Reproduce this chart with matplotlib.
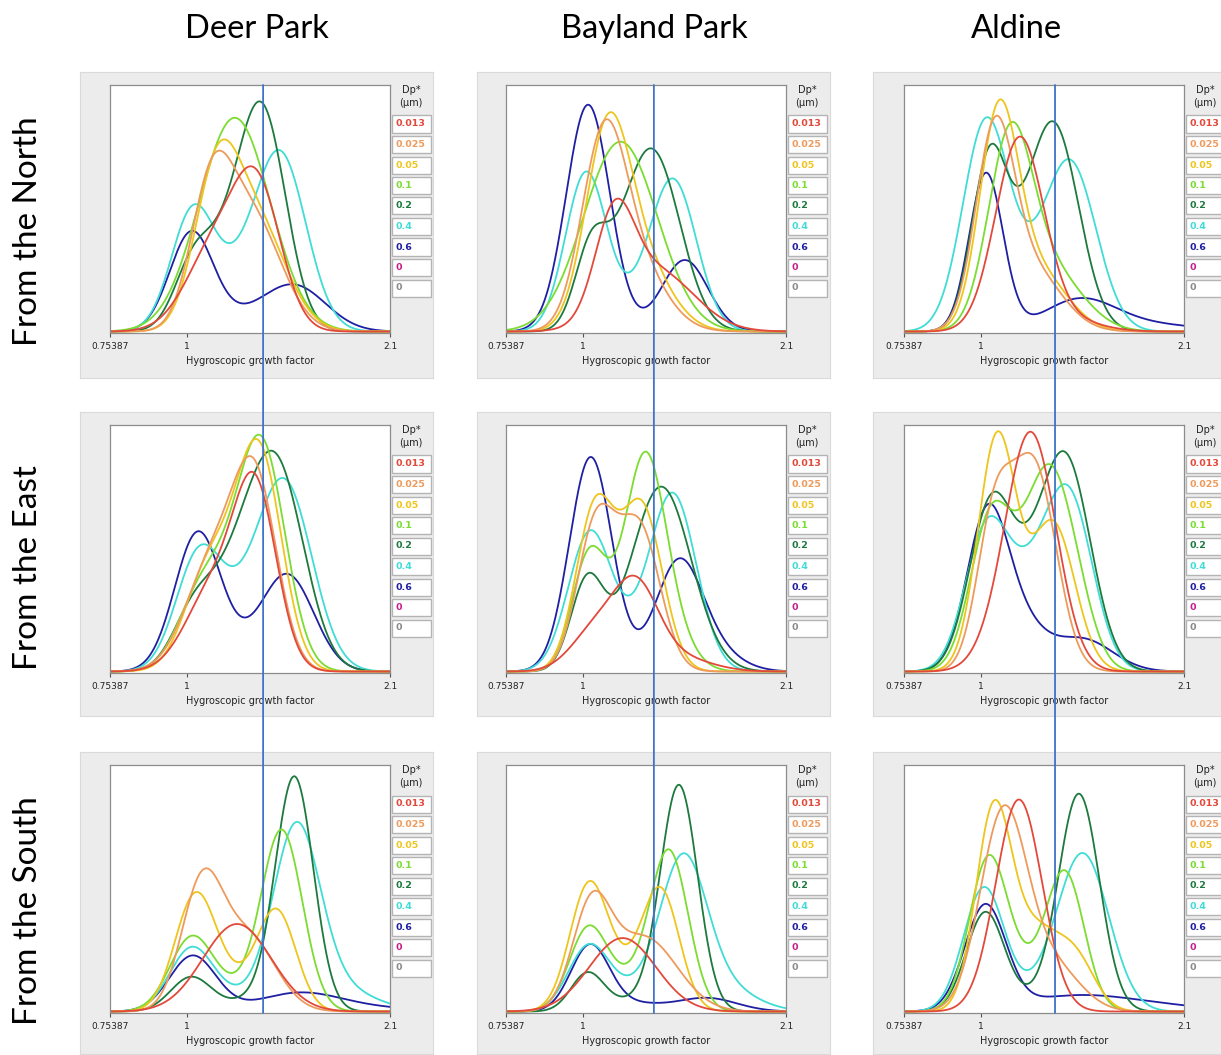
import numpy as np
import matplotlib.pyplot as plt
from matplotlib.patches import Rectangle, ConnectionPatch
from matplotlib.ticker import NullLocator

# Panels: rows = wind direction, columns = site
sites = ['Deer Park', 'Bayland Park', 'Aldine']
directions = ['From the North', 'From the East', 'From the South']

# legend entries (dry diameter, um) and curve colours
dp_labels = ['0.013', '0.025', '0.05', '0.1', '0.2', '0.4', '0.6', '0', '0']
dp_colors = ['#e3493b', '#ee9a5c', '#eec51c', '#7bdc31', '#1d7a3e', '#40dcd6', '#1f1fa3', '#c81e8c', '#8a8a8a']

gf_ticks = [0.75387, 1, 2.1]
gf_tick_labels = ['0.75387', '1', '2.1']
gf_marker = [1.32, 1.295, 1.31]   # vertical reference line per site

# GF-PDF modes: (centre GF, peak height, log width)
# order of curves: 0.013, 0.025, 0.05, 0.1, 0.2, 0.4, 0.6 um
deer_north = [
    [(1.30, 0.50, 0.085), (1.12, 0.36, 0.11)],
    [(1.09, 0.50, 0.075), (1.26, 0.47, 0.11)],
    [(1.11, 0.55, 0.08), (1.28, 0.45, 0.11)],
    [(1.19, 0.867, 0.13)],
    [(1.325, 0.78, 0.085), (1.17, 0.30, 0.10), (1.02, 0.22, 0.07)],
    [(1.022, 0.49, 0.08), (1.404, 0.72, 0.095), (1.19, 0.13, 0.08)],
    [(1.016, 0.40, 0.08), (1.48, 0.185, 0.115), (1.22, 0.04, 0.10)],
]
bayland_north = [
    [(1.12, 0.39, 0.07), (1.30, 0.25, 0.14)],
    [(1.075, 0.68, 0.08), (1.20, 0.28, 0.11)],
    [(1.09, 0.70, 0.08), (1.22, 0.30, 0.11)],
    [(1.146, 0.77, 0.135)],
    [(1.03, 0.33, 0.06), (1.29, 0.72, 0.10), (1.15, 0.08, 0.07)],
    [(1.01, 0.64, 0.075), (1.39, 0.61, 0.085), (1.19, 0.07, 0.08)],
    [(1.018, 0.92, 0.08), (1.45, 0.29, 0.085)],
]
aldine_north = [
    [(1.15, 0.77, 0.088), (1.35, 0.05, 0.12)],
    [(1.05, 0.75, 0.07), (1.20, 0.25, 0.11)],
    [(1.065, 0.82, 0.07), (1.22, 0.25, 0.11)],
    [(1.11, 0.72, 0.08), (1.28, 0.25, 0.12)],
    [(1.03, 0.68, 0.065), (1.31, 0.80, 0.09), (1.16, 0.15, 0.08)],
    [(1.018, 0.85, 0.085), (1.385, 0.68, 0.095), (1.19, 0.10, 0.08)],
    [(1.018, 0.64, 0.062), (1.43, 0.12, 0.13), (1.80, 0.03, 0.20)],
]
deer_east = [
    [(1.285, 0.70, 0.078), (1.10, 0.33, 0.10)],
    [(1.285, 0.72, 0.08), (1.10, 0.44, 0.10)],
    [(1.31, 0.79, 0.08), (1.13, 0.40, 0.10), (1.04, 0.10, 0.07)],
    [(1.32, 0.83, 0.085), (1.15, 0.30, 0.10), (1.03, 0.18, 0.08)],
    [(1.39, 0.80, 0.10), (1.20, 0.30, 0.09), (1.03, 0.25, 0.08)],
    [(1.045, 0.47, 0.085), (1.43, 0.75, 0.10), (1.22, 0.15, 0.09)],
    [(1.04, 0.56, 0.085), (1.45, 0.37, 0.095), (1.27, 0.06, 0.10)],
]
bayland_east = [
    [(1.215, 0.31, 0.08), (1.05, 0.17, 0.09), (1.40, 0.06, 0.12)],
    [(1.05, 0.60, 0.07), (1.23, 0.57, 0.075)],
    [(1.045, 0.66, 0.07), (1.24, 0.66, 0.075)],
    [(1.025, 0.48, 0.065), (1.25, 0.83, 0.075), (1.38, 0.12, 0.08)],
    [(1.015, 0.36, 0.06), (1.33, 0.75, 0.11)],
    [(1.025, 0.56, 0.08), (1.39, 0.71, 0.085), (1.20, 0.08, 0.08)],
    [(1.028, 0.87, 0.078), (1.415, 0.42, 0.085), (1.60, 0.08, 0.10)],
]
aldine_east = [
    [(1.20, 0.96, 0.092), (1.05, 0.05, 0.08)],
    [(1.05, 0.60, 0.065), (1.215, 0.82, 0.08)],
    [(1.06, 0.95, 0.07), (1.30, 0.60, 0.08)],
    [(1.035, 0.60, 0.075), (1.28, 0.74, 0.085), (1.15, 0.10, 0.08), (1.42, 0.15, 0.07)],
    [(1.035, 0.65, 0.08), (1.37, 0.80, 0.09), (1.20, 0.24, 0.09)],
    [(1.02, 0.56, 0.08), (1.385, 0.66, 0.085), (1.20, 0.30, 0.09)],
    [(1.02, 0.60, 0.075), (1.15, 0.18, 0.09), (1.45, 0.13, 0.11)],
]
deer_south = [
    [(1.20, 0.355, 0.125)],
    [(1.055, 0.50, 0.075), (1.25, 0.30, 0.10)],
    [(1.03, 0.46, 0.075), (1.39, 0.39, 0.07), (1.20, 0.10, 0.09)],
    [(1.015, 0.29, 0.08), (1.415, 0.72, 0.075), (1.20, 0.07, 0.10)],
    [(1.015, 0.14, 0.075), (1.48, 0.95, 0.07), (1.25, 0.04, 0.08)],
    [(1.015, 0.25, 0.08), (1.49, 0.70, 0.085), (1.70, 0.10, 0.14), (1.20, 0.05, 0.10)],
    [(1.02, 0.225, 0.085), (1.50, 0.07, 0.15), (1.90, 0.015, 0.20)],
]
bayland_south = [
    [(1.155, 0.298, 0.122)],
    [(1.03, 0.40, 0.07), (1.25, 0.30, 0.12)],
    [(1.02, 0.50, 0.07), (1.33, 0.47, 0.068), (1.17, 0.12, 0.08)],
    [(1.018, 0.33, 0.07), (1.37, 0.64, 0.07), (1.18, 0.10, 0.08)],
    [(1.015, 0.15, 0.06), (1.42, 0.91, 0.068), (1.20, 0.04, 0.10)],
    [(1.02, 0.26, 0.075), (1.44, 0.58, 0.085), (1.65, 0.10, 0.12), (1.20, 0.07, 0.09)],
    [(1.025, 0.265, 0.07), (1.57, 0.055, 0.11), (1.20, 0.03, 0.10)],
]
aldine_south = [
    [(1.148, 0.86, 0.085)],
    [(1.085, 0.80, 0.085), (1.30, 0.18, 0.10)],
    [(1.045, 0.78, 0.065), (1.22, 0.32, 0.09), (1.42, 0.18, 0.07)],
    [(1.025, 0.60, 0.07), (1.36, 0.55, 0.07), (1.17, 0.13, 0.08)],
    [(1.015, 0.40, 0.07), (1.43, 0.88, 0.075), (1.20, 0.04, 0.08)],
    [(1.01, 0.50, 0.075), (1.45, 0.64, 0.095), (1.20, 0.05, 0.08)],
    [(1.015, 0.42, 0.075), (1.40, 0.06, 0.20), (1.90, 0.02, 0.20)],
]

panels = [[deer_north, bayland_north, aldine_north],
          [deer_east, bayland_east, aldine_east],
          [deer_south, bayland_south, aldine_south]]

W, H = 1221, 1055
fig = plt.figure(figsize=(W / 100, H / 100), dpi=100)
fig.patch.set_facecolor('white')


def px_axes(x, y, w, h, **kw):
    return fig.add_axes([x / W, 1 - (y + h) / H, w / W, h / H], **kw)


frame_x = [80, 477, 873]
frame_w = [353, 353, 348]
frame_y = [72, 412, 752]
frame_h = [306, 304, 302]
plot_x = [110, 506, 904]
plot_y = [85, 425, 765]
plot_w, plot_h = 280, 248

gf = np.geomspace(0.75387, 2.1, 600)


def pdf(modes):
    y = np.zeros_like(gf)
    for c, h, s in modes:
        y += h * np.exp(-0.5 * (np.log(gf / c) / s) ** 2)
    return y


axes = [[None] * 3 for _ in range(3)]
for r in range(3):
    for c in range(3):
        fr = px_axes(frame_x[c], frame_y[r], frame_w[c], frame_h[r])
        fr.set_facecolor('#ececec')
        fr.set_xticks([])
        fr.set_yticks([])
        for sp in fr.spines.values():
            sp.set_color('#dadada')
            sp.set_linewidth(0.8)

        ax = px_axes(plot_x[c], plot_y[r], plot_w, plot_h)
        axes[r][c] = ax
        ax.set_facecolor('white')
        ax.set_xscale('log')
        # draw 0.6 first so the small sizes end up on top
        for k in range(6, -1, -1):
            ax.plot(gf, pdf(panels[r][c][k]), color=dp_colors[k], lw=1.3,
                    solid_capstyle='round')
        ax.set_xlim(0.75387, 2.1)
        ax.set_ylim(-0.006, 1.0)
        ax.set_xticks(gf_ticks)
        ax.set_xticklabels(gf_tick_labels)
        ax.xaxis.set_minor_locator(NullLocator())
        ax.set_yticks([])
        ax.tick_params(axis='x', length=3, width=0.8, color='#555555',
                       labelsize=6.5, pad=3.5, labelcolor='#222222')
        ax.set_xlabel('Hygroscopic growth factor', fontsize=7, labelpad=3.5,
                      color='#222222')
        for sp in ax.spines.values():
            sp.set_color('#8c8c8c')
            sp.set_linewidth(0.9)

        # legend column
        lx = plot_x[c] + plot_w
        top = plot_y[r]
        fig.text((lx + 21) / W, 1 - (top + 5) / H, 'Dp*', fontsize=7,
                 ha='center', va='center', color='#222222')
        fig.text((lx + 21) / W, 1 - (top + 18) / H, '(\u00b5m)', fontsize=7,
                 ha='center', va='center', color='#222222')
        for k, lab in enumerate(dp_labels):
            cy = top + 39 + 20.5 * k
            fig.add_artist(Rectangle(((lx + 2) / W, 1 - (cy + 8.5) / H), 39 / W, 17 / H,
                                     transform=fig.transFigure, facecolor='white',
                                     edgecolor='#b4b4b4', lw=1.0, zorder=2))
            fig.text((lx + 5) / W, 1 - cy / H, lab, fontsize=6.8, fontweight='bold',
                     ha='left', va='center', color=dp_colors[k], zorder=3)

# vertical reference line through each column
for c in range(3):
    con = ConnectionPatch(xyA=(gf_marker[c], 1.0), coordsA=axes[0][c].transData,
                          xyB=(gf_marker[c], -0.006), coordsB=axes[2][c].transData,
                          color='#3f74c9', lw=1.3, zorder=10)
    fig.add_artist(con)

title_x = [257, 654, 1016]
for c in range(3):
    fig.text(title_x[c] / W, 1 - 29 / H, sites[c], fontsize=23.5, family='Lato',
             ha='center', va='center')
row_y = [231, 568, 911]
for r in range(3):
    fig.text(28 / W, 1 - row_y[r] / H, directions[r], fontsize=24, family='Lato',
             ha='center', va='center', rotation=90)

fig.savefig('out.png', dpi=100)
